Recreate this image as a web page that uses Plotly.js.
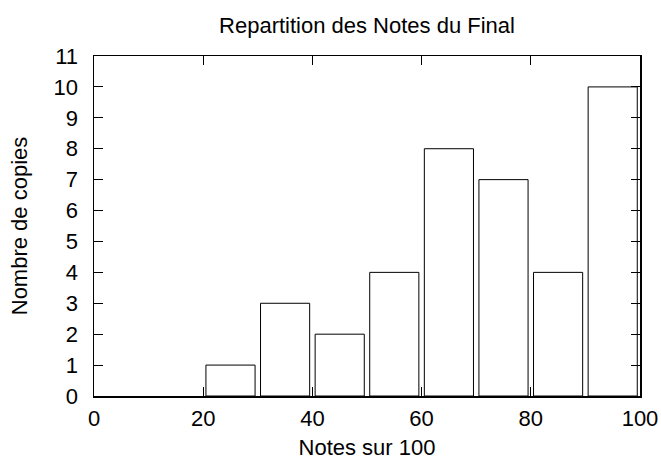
<!DOCTYPE html>
<html><head><meta charset="utf-8">
<script src="https://cdn.plot.ly/plotly-3.0.1.min.js"></script>
<style>body{margin:0}#c{width:661px;height:460px}</style>
</head><body><div id="c"></div>
<script>
const binCenters = [25, 35, 45, 55, 65, 75, 85, 95];
const counts = [1, 3, 2, 4, 8, 7, 4, 10];
const xTicks = [0, 20, 40, 60, 80, 100];
const yTicks = [0,1,2,3,4,5,6,7,8,9,10,11];

const trace = {
  type: 'bar', x: binCenters, y: counts, width: 9,
  marker: {color: 'rgba(255,255,255,0)', line: {color: '#000', width: 1}},
  hoverinfo: 'x+y'
};
const fam = 'Liberation Sans, Arial, sans-serif';
const layout = {
  width: 661, height: 460,
  margin: {l: 94, r: 21, t: 56, b: 64},
  paper_bgcolor: '#fff', plot_bgcolor: '#fff',
  font: {family: fam, color: '#000'},
  showlegend: false,
  title: {text: 'Repartition des Notes du Final', font: {size: 22, family: fam, color: '#000'}, x: 0.5, xref: 'paper', xanchor: 'center', y: 0.945, yref: 'container', yanchor: 'middle'},
  xaxis: {
    range: [0, 100], tickvals: xTicks, ticktext: xTicks.map(String),
    ticks: 'inside', ticklen: 9, tickwidth: 1, tickcolor: '#000',
    showline: true, linecolor: '#000', linewidth: 1.5, mirror: 'ticks',
    showgrid: false, zeroline: false, ticklabelstandoff: 2,
    tickfont: {size: 22, family: fam, color: '#000'},
    title: {text: 'Notes sur 100', font: {size: 22, family: fam, color: '#000'}, standoff: 11}
  },
  yaxis: {
    range: [0, 11], tickvals: yTicks, ticktext: yTicks.map(String),
    ticks: 'inside', ticklen: 9, tickwidth: 1, tickcolor: '#000',
    showline: true, linecolor: '#000', linewidth: 1.5, mirror: 'ticks',
    showgrid: false, zeroline: false, ticklabelstandoff: 10,
    tickfont: {size: 22, family: fam, color: '#000'},
    title: {text: 'Nombre de copies', font: {size: 22, family: fam, color: '#000'}, standoff: 20}
  }
};
Plotly.newPlot('c', [trace], layout, {displayModeBar: false, staticPlot: true});
</script></body></html>
